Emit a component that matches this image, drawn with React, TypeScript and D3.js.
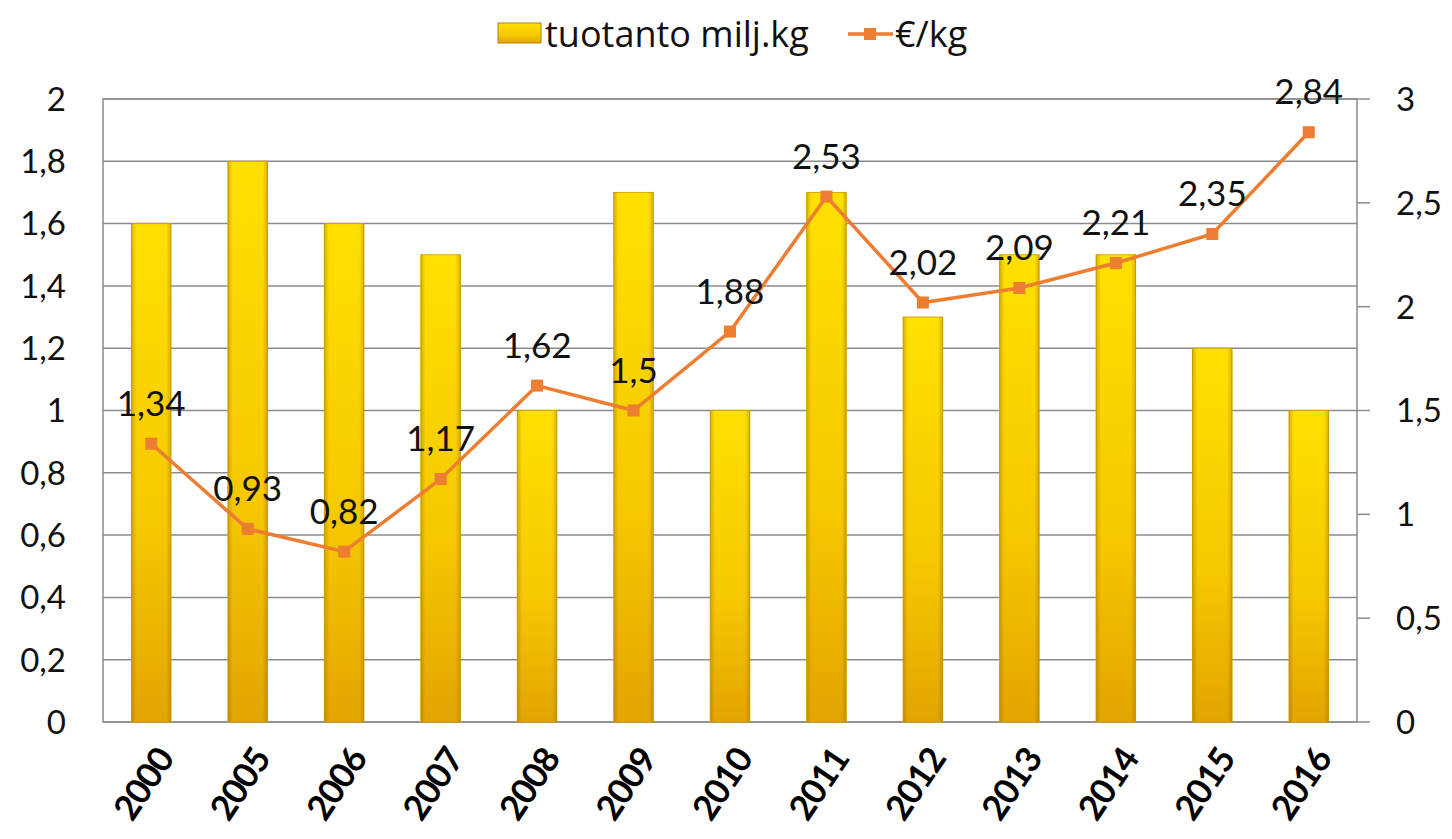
import React, { useRef, useEffect } from 'react';
import * as d3 from 'd3';

const years = ['2000', '2005', '2006', '2007', '2008', '2009', '2010', '2011', '2012', '2013', '2014', '2015', '2016'];
const production = [1.6, 1.8, 1.6, 1.5, 1.0, 1.7, 1.0, 1.7, 1.3, 1.5, 1.5, 1.2, 1.0];
const pricePerKg = [1.34, 0.93, 0.82, 1.17, 1.62, 1.5, 1.88, 2.53, 2.02, 2.09, 2.21, 2.35, 2.84];
const leftTicks = [0, 0.2, 0.4, 0.6, 0.8, 1, 1.2, 1.4, 1.6, 1.8, 2];
const rightTicks = [0, 0.5, 1, 1.5, 2, 2.5, 3];

const W = 1452;
const H = 839;
const FONT = 'Lato, "Open Sans", sans-serif';
const LINE = '#ED7D31';

const fmt = (v: number) => String(v).replace('.', ',');

const App = () => {
  const svgRef = useRef<SVGSVGElement>(null);

  useEffect(() => {
    const root = d3.select(svgRef.current);
    root.selectAll('*').remove();
    const svg = root.attr('width', W).attr('height', H).style('font-family', FONT);

    const left = 103, right = 1357, top = 99, bottom = 722;

    const defs = svg.append('defs');
    const vg = defs.append('linearGradient').attr('id', 'barV').attr('x1', 0).attr('y1', 0).attr('x2', 0).attr('y2', 1);
    vg.append('stop').attr('offset', '0%').attr('stop-color', '#FFE000');
    vg.append('stop').attr('offset', '60%').attr('stop-color', '#F6C800');
    vg.append('stop').attr('offset', '100%').attr('stop-color', '#E3A400');
    const hg = defs.append('linearGradient').attr('id', 'barH').attr('x1', 0).attr('y1', 0).attr('x2', 1).attr('y2', 0);
    hg.append('stop').attr('offset', '0%').attr('stop-color', '#8a6000').attr('stop-opacity', 0.35);
    hg.append('stop').attr('offset', '12%').attr('stop-color', '#8a6000').attr('stop-opacity', 0);
    hg.append('stop').attr('offset', '88%').attr('stop-color', '#8a6000').attr('stop-opacity', 0);
    hg.append('stop').attr('offset', '100%').attr('stop-color', '#8a6000').attr('stop-opacity', 0.35);

    const x = d3.scaleBand().domain(years).range([left, right]).paddingInner(0.59).paddingOuter(0.295);
    const yL = d3.scaleLinear().domain([0, 2]).range([bottom, top]);
    const yR = d3.scaleLinear().domain([0, 3]).range([bottom, top]);

    // gridlines
    svg.append('g').selectAll('line').data(leftTicks).enter().append('line')
      .attr('x1', left).attr('x2', right)
      .attr('y1', d => yL(d)).attr('y2', d => yL(d))
      .attr('stroke', '#8c8c8c').attr('stroke-width', 1.5);

    // plot border
    svg.append('rect').attr('x', left).attr('y', top).attr('width', right - left).attr('height', bottom - top)
      .attr('fill', 'none').attr('stroke', '#8c8c8c').attr('stroke-width', 1.5);

    // right axis ticks
    svg.append('g').selectAll('line').data(rightTicks).enter().append('line')
      .attr('x1', right).attr('x2', right + 13)
      .attr('y1', d => yR(d)).attr('y2', d => yR(d))
      .attr('stroke', '#8c8c8c').attr('stroke-width', 1.5);

    // left labels
    svg.append('g').selectAll('text').data(leftTicks).enter().append('text')
      .attr('x', 66).attr('y', d => yL(d)).attr('dy', '0.36em')
      .attr('text-anchor', 'end').attr('font-size', 33).attr('fill', '#111')
      .text(d => fmt(d));

    // right labels
    svg.append('g').selectAll('text').data(rightTicks).enter().append('text')
      .attr('x', 1396).attr('y', d => yR(d)).attr('dy', '0.36em')
      .attr('text-anchor', 'start').attr('font-size', 33).attr('fill', '#111')
      .text(d => fmt(d));

    // bars
    const bars = svg.append('g').selectAll('g').data(years).enter().append('g');
    bars.append('rect')
      .attr('x', d => x(d)!).attr('width', x.bandwidth())
      .attr('y', (d, i) => yL(production[i])).attr('height', (d, i) => bottom - yL(production[i]))
      .attr('fill', 'url(#barV)').attr('stroke', '#D9A600').attr('stroke-width', 1);
    bars.append('rect')
      .attr('x', d => x(d)!).attr('width', x.bandwidth())
      .attr('y', (d, i) => yL(production[i])).attr('height', (d, i) => bottom - yL(production[i]))
      .attr('fill', 'url(#barH)');

    // x labels
    svg.append('g').selectAll('text').data(years).enter().append('text')
      .attr('transform', d => `translate(${x(d)! + x.bandwidth() / 2 + 14},752) rotate(-56)`)
      .attr('text-anchor', 'end').attr('dy', '0.35em')
      .attr('font-size', 35).attr('font-weight', 'bold').attr('fill', '#000')
      .attr('letter-spacing', -1)
      .text(d => d);

    // line
    const cx = (i: number) => x(years[i])! + x.bandwidth() / 2;
    const line = d3.line<number>().x((d, i) => cx(i)).y(d => yR(d));
    svg.append('path').datum(pricePerKg).attr('d', line)
      .attr('fill', 'none').attr('stroke', LINE).attr('stroke-width', 3.5);
    svg.append('g').selectAll('rect').data(pricePerKg).enter().append('rect')
      .attr('x', (d, i) => cx(i) - 6).attr('y', d => yR(d) - 6)
      .attr('width', 12).attr('height', 12).attr('fill', LINE);

    // data labels
    svg.append('g').selectAll('text').data(pricePerKg).enter().append('text')
      .attr('x', (d, i) => cx(i)).attr('y', d => yR(d) - 28)
      .attr('text-anchor', 'middle').attr('font-size', 35).attr('fill', '#111')
      .text(d => fmt(d));

    // legend
    const lg = svg.append('g').style('font-family', '"Open Sans", Lato, sans-serif');
    lg.append('rect').attr('x', 498).attr('y', 23).attr('width', 43).attr('height', 20)
      .attr('fill', 'url(#barV)').attr('stroke', '#B08400').attr('stroke-width', 1);
    lg.append('text').attr('x', 545).attr('y', 34).attr('dy', '0.36em')
      .attr('font-size', 36).attr('fill', '#111').text('tuotanto milj.kg');
    lg.append('line').attr('x1', 848).attr('x2', 893).attr('y1', 34).attr('y2', 34)
      .attr('stroke', LINE).attr('stroke-width', 3.5);
    lg.append('rect').attr('x', 864).attr('y', 28).attr('width', 12).attr('height', 12).attr('fill', LINE);
    lg.append('text').attr('x', 895).attr('y', 34).attr('dy', '0.36em')
      .attr('font-size', 36).attr('fill', '#111').text('€/kg');
  }, []);

  return <svg ref={svgRef} style={{ display: 'block', position: 'absolute', left: 0, top: 0 }}></svg>;
};

export default App;
